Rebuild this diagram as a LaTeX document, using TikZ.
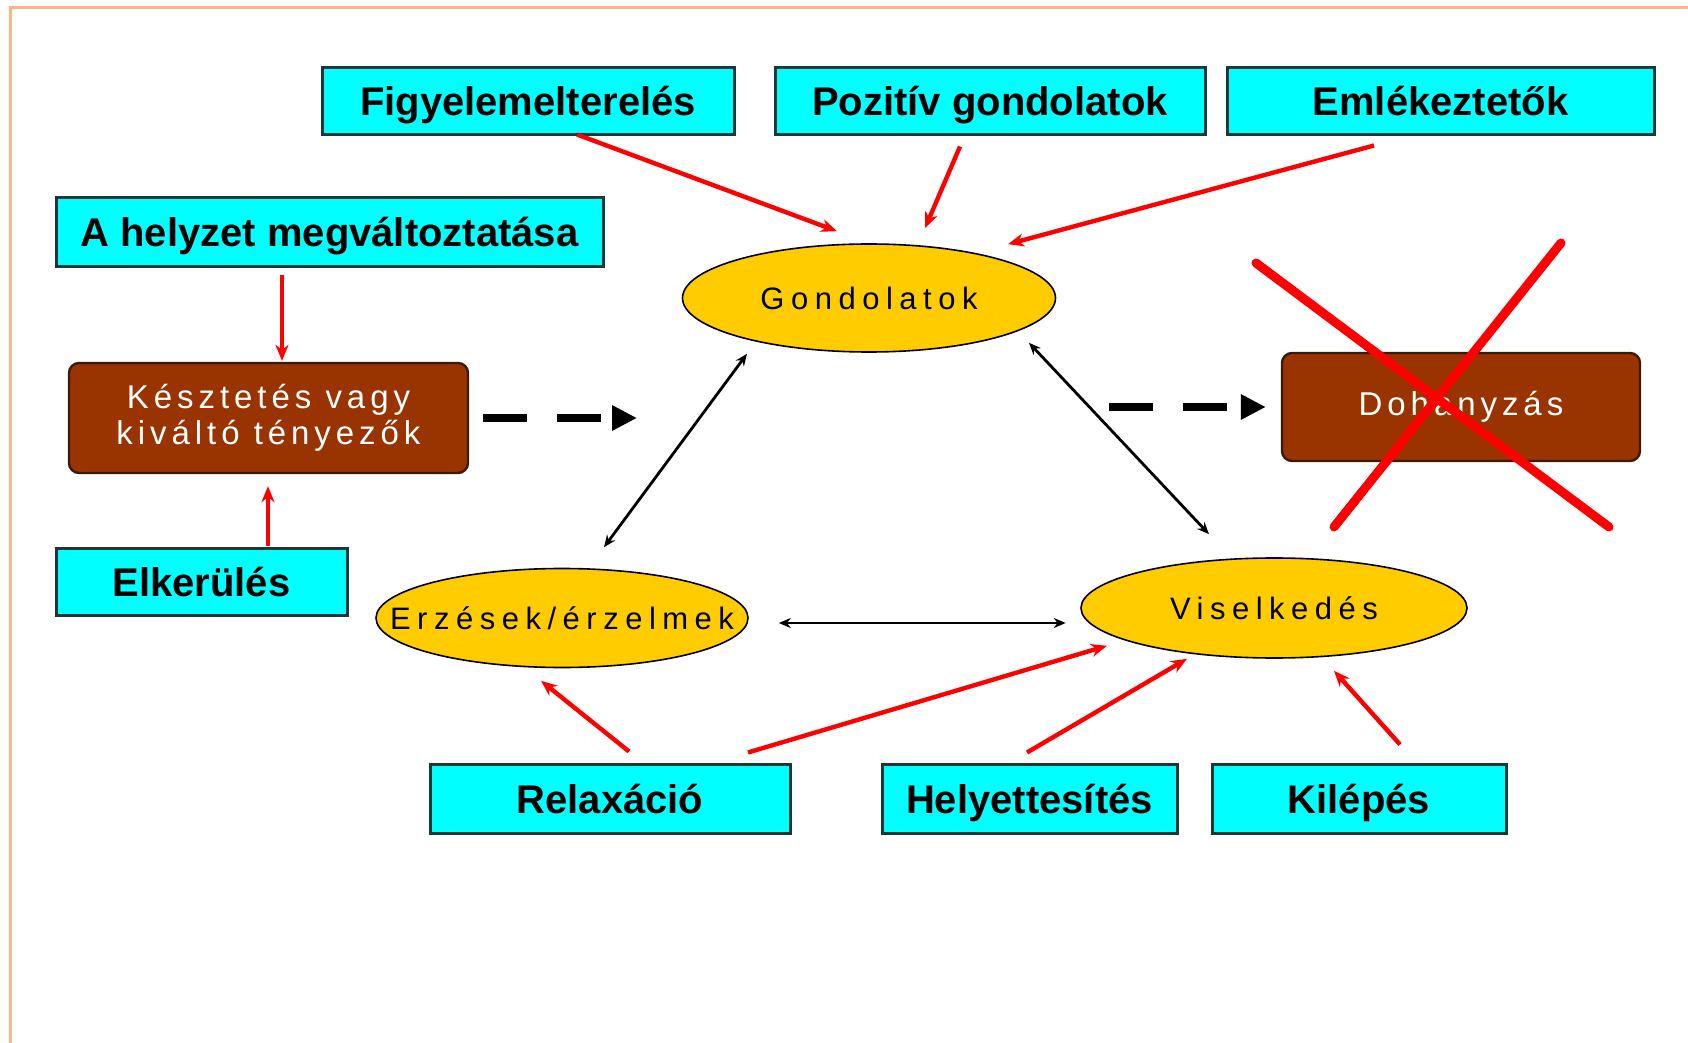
\documentclass[tikz,border=0pt]{standalone}
\usepackage{fontspec}
\setmainfont{Liberation Sans}
\newfontfamily\ellfont[LetterSpace=21]{Liberation Sans}
\newfontfamily\brfont[LetterSpace=15]{Liberation Sans}
\usetikzlibrary{shapes.geometric,arrows.meta}
\definecolor{cyanbox}{HTML}{00FFFF}
\definecolor{cyanedge}{HTML}{1A3838}
\definecolor{brownbox}{HTML}{993300}
\definecolor{brownedge}{HTML}{3A1A08}
\definecolor{gold}{HTML}{FFCC00}
\definecolor{frameor}{HTML}{FFB583}
\definecolor{redarr}{HTML}{FF0000}
\begin{document}
\begin{tikzpicture}[x=0.5pt,y=-0.5pt,
 cbox/.style={rectangle, fill=cyanbox, draw=cyanedge, line width=1.5pt, inner sep=0pt, minimum height=33.5pt, text height=15.5pt, text depth=1pt, font=\fontsize{20}{24}\selectfont\bfseries},
 bbox/.style={rectangle, rounded corners=5pt, fill=brownbox, draw=brownedge, line width=1.2pt, inner sep=0pt, text=white, font=\brfont\fontsize{16.5}{18}\selectfont, align=center},
 ell/.style={ellipse, fill=gold, draw=black, line width=0.8pt, inner sep=0pt, font=\ellfont\fontsize{15.5}{18}\selectfont},
 redarrow/.style={draw=redarr, line width=2.2pt, -{Stealth[length=8pt,width=6.5pt]}},
 dbl/.style={draw=black, line width=1.4pt, {Stealth[length=6pt,width=5pt]}-{Stealth[length=6pt,width=5pt]}},
 dasharrow/.style={draw=black, line width=4pt, dash pattern=on 22pt off 15pt, -{Triangle[length=12.5pt,width=12pt]}},
 cross/.style={draw=redarr, line width=4.5pt, line cap=round}]

\useasboundingbox (0,0) rectangle (1688,1043);
\fill[white] (0,0) rectangle (1688,1043);
\draw[frameor, line width=1.5pt] (10.8,1043) -- (10.8,7.3) -- (1688,7.3);

% cyan boxes
\node[cbox, minimum width=206pt] (fig) at (528,101.5) {Figyelemelterelés};
\node[cbox, minimum width=215pt] (poz) at (990,101.5) {Pozitív gondolatok};
\node[cbox, minimum width=213.5pt] (eml) at (1440.5,101.5) {Emlékeztetők};
\node[cbox, minimum width=273.5pt, minimum height=34.5pt] (hely) at (329.5,232.5) {A helyzet megváltoztatása};
\node[cbox, minimum width=145.5pt] (elk) at (201.5,581.5) {Elkerülés};
\node[cbox, minimum width=180pt, minimum height=34.5pt] (rel) at (610,798.5) {Relaxáció};
\node[cbox, minimum width=147.5pt, minimum height=34.5pt] (hel) at (1029.5,798.5) {Helyettesítés};
\node[cbox, minimum width=147pt, minimum height=34.5pt] (kil) at (1359,798.5) {Kilépés};

% brown boxes
\node[bbox, minimum width=199.5pt, minimum height=55pt] (kesz) at (268.5,418) {Késztetés vagy\\kiváltó tényezők};
\node[bbox, minimum width=179pt, minimum height=54pt] (doh) at (1461,407) {Dohányzás};

% ellipses
\node[ell, minimum width=186.5pt, minimum height=54pt] (gond) at (869,298) {\makebox[0pt]{Gondolatok}};
\node[ell, minimum width=186pt, minimum height=49.5pt] (erz) at (562,618) {\makebox[0pt]{Erzések/érzelmek}};
\node[ell, minimum width=193pt, minimum height=50pt] (vis) at (1274,608) {\makebox[0pt]{Viselkedés}};

% red arrows
\draw[redarrow] ([xshift=24.5pt,yshift=1pt]fig.south) -- ([xshift=-16pt,yshift=6pt]gond.north);
\draw[redarrow] ([xshift=-15pt,yshift=-5pt]poz.south) -- ([xshift=28pt,yshift=7.5pt]gond.north);
\draw[redarrow] ([xshift=-33.25pt,yshift=-4.5pt]eml.south) -- ([xshift=69.5pt,yshift=-0.5pt]gond.north);
\draw[redarrow] ([xshift=-23.75pt,yshift=-3.5pt]hely.south) -- ([xshift=6.75pt,yshift=0.5pt]kesz.north);
\draw[redarrow] ([xshift=33.25pt,yshift=0.5pt]elk.north) -- ([xshift=-0.25pt,yshift=-6pt]kesz.south);
\draw[redarrow] ([xshift=9.5pt,yshift=5.5pt]rel.north) -- ([xshift=-10.5pt,yshift=-6.25pt]erz.south);
\draw[redarrow] ([xshift=69pt,yshift=5pt]rel.north) -- ([xshift=-83.5pt,yshift=6.5pt]vis.south);
\draw[redarrow] ([xshift=-1.25pt,yshift=5pt]hel.north) -- ([xshift=-43.5pt,yshift=0pt]vis.south);
\draw[redarrow] ([xshift=20.5pt,yshift=9pt]kil.north) -- ([xshift=30pt,yshift=-6pt]vis.south);

% black double arrows
\draw[dbl] ([xshift=-61pt,yshift=-0.5pt]gond.south) -- ([xshift=21pt,yshift=10.25pt]erz.north);
\draw[dbl] ([xshift=80pt,yshift=5pt]gond.south) -- ([xshift=-32.5pt,yshift=11.5pt]vis.north);
\draw[dbl] ([xshift=15pt,yshift=-2.5pt]erz.east) -- ([xshift=-7.25pt,yshift=-7.5pt]vis.west);

% dashed arrows
\coordinate (d1e) at (637,418);
\draw[dasharrow] ([xshift=7pt]kesz.east) -- (d1e);
\coordinate (d2s) at (1109,407);
\draw[dasharrow] (d2s) -- ([xshift=-7.5pt]doh.west);

% red cross
\draw[cross] (1256,263) -- (1609,527);
\draw[cross] (1561,243) -- (1334,527);
\end{tikzpicture}
\end{document}
